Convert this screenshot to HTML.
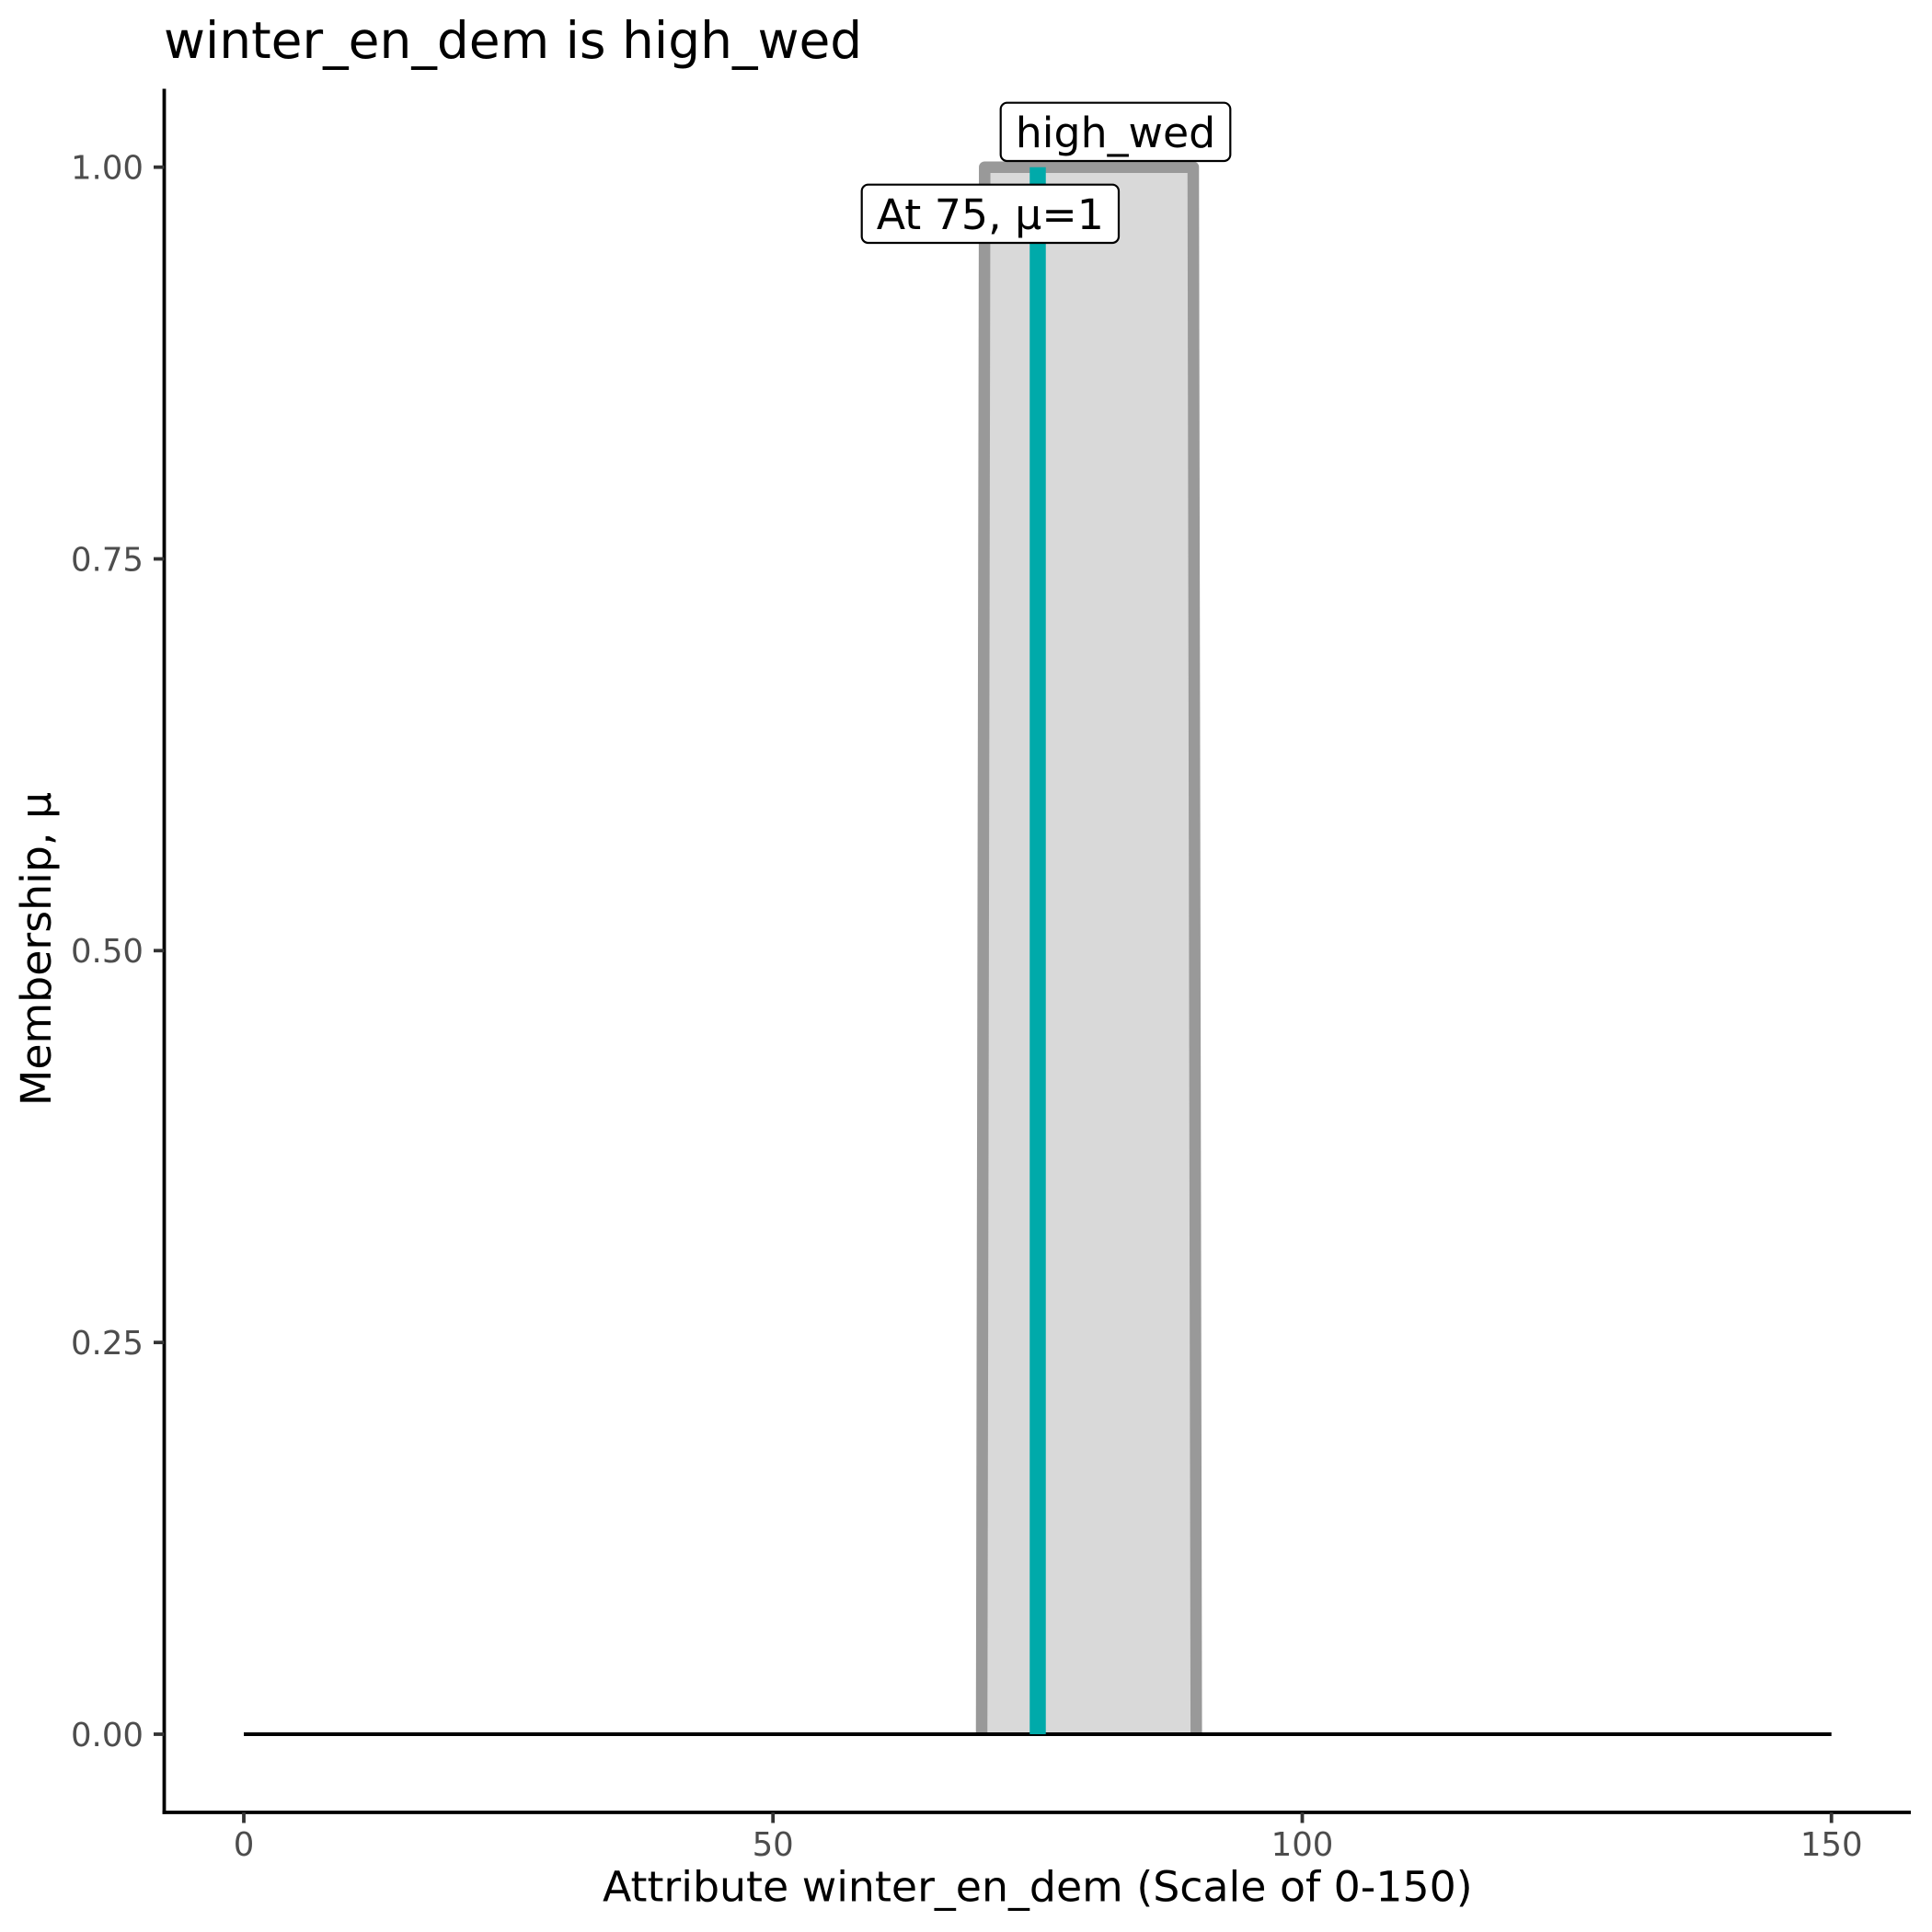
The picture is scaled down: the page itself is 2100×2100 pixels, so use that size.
<!DOCTYPE html>
<html>
<head>
<meta charset="utf-8">
<style>
  html, body { margin: 0; padding: 0; background: #ffffff; }
  svg { display: block; }
  text { font-family: "DejaVu Sans", "Liberation Sans", sans-serif; }
</style>
</head>
<body>
<svg width="2100" height="2100" viewBox="0 0 2100 2100" xmlns="http://www.w3.org/2000/svg">
  <rect x="0" y="0" width="2100" height="2100" fill="#ffffff"/>

  <!-- Title -->
  <text x="178" y="63" font-size="55" fill="#000000">winter_en_dem is high_wed</text>

  <!-- Membership shape fill -->
  <polygon points="1067,1885 1070.3,181.7 1297,181.7 1300.3,1885" fill="#D9D9D9" stroke="none"/>
  <!-- Membership shape outline -->
  <polyline points="1067,1885 1070.3,181.7 1297,181.7 1300.3,1885" fill="none" stroke="#999999" stroke-width="12.5" stroke-linejoin="round" stroke-linecap="butt"/>

  <!-- Zero line -->
  <line x1="265" y1="1885" x2="1990.7" y2="1885" stroke="#000000" stroke-width="4"/>

  <!-- Teal indicator -->
  <line x1="1128" y1="181.7" x2="1128" y2="1885" stroke="#00AAAA" stroke-width="17.5" stroke-linecap="butt"/>

  <!-- Axes -->
  <line x1="178.5" y1="96.5" x2="178.5" y2="1971.8" stroke="#000000" stroke-width="3.8"/>
  <line x1="176.6" y1="1970" x2="2077" y2="1970" stroke="#000000" stroke-width="3.8"/>

  <!-- Y ticks -->
  <g stroke="#333333" stroke-width="3.8">
    <line x1="167" y1="181.7" x2="178.5" y2="181.7"/>
    <line x1="167" y1="607.5" x2="178.5" y2="607.5"/>
    <line x1="167" y1="1033.3" x2="178.5" y2="1033.3"/>
    <line x1="167" y1="1459.2" x2="178.5" y2="1459.2"/>
    <line x1="167" y1="1885" x2="178.5" y2="1885"/>
  </g>
  <g font-size="35.5" fill="#4D4D4D" text-anchor="end">
    <text x="156" y="194.5">1.00</text>
    <text x="156" y="620.3">0.75</text>
    <text x="156" y="1046.1">0.50</text>
    <text x="156" y="1472">0.25</text>
    <text x="156" y="1897.8">0.00</text>
  </g>

  <!-- X ticks -->
  <g stroke="#333333" stroke-width="3.8">
    <line x1="265" y1="1970" x2="265" y2="1981.5"/>
    <line x1="840.2" y1="1970" x2="840.2" y2="1981.5"/>
    <line x1="1415.5" y1="1970" x2="1415.5" y2="1981.5"/>
    <line x1="1990.7" y1="1970" x2="1990.7" y2="1981.5"/>
  </g>
  <g font-size="35.5" fill="#4D4D4D" text-anchor="middle">
    <text x="265" y="2017">0</text>
    <text x="840.2" y="2017">50</text>
    <text x="1415.5" y="2017">100</text>
    <text x="1990.7" y="2017">150</text>
  </g>

  <!-- Axis titles -->
  <text x="1127.8" y="2066.7" font-size="45.8" fill="#000000" text-anchor="middle">Attribute winter_en_dem (Scale of 0-150)</text>
  <text transform="translate(55,1031.5) rotate(-90)" font-size="45.8" fill="#000000" text-anchor="middle">Membership, μ</text>

  <!-- Labels -->
  <rect x="1087.7" y="111.7" width="249.6" height="63.3" rx="7" ry="7" fill="#ffffff" stroke="#000000" stroke-width="2.2"/>
  <text x="1212.5" y="160" font-size="45.8" fill="#000000" text-anchor="middle">high_wed</text>

  <rect x="936.7" y="200.7" width="279.3" height="63.3" rx="7" ry="7" fill="#ffffff" stroke="#000000" stroke-width="2.2"/>
  <text x="1076.3" y="249" font-size="45.8" fill="#000000" text-anchor="middle">At 75, μ=1</text>
</svg>
</body>
</html>
